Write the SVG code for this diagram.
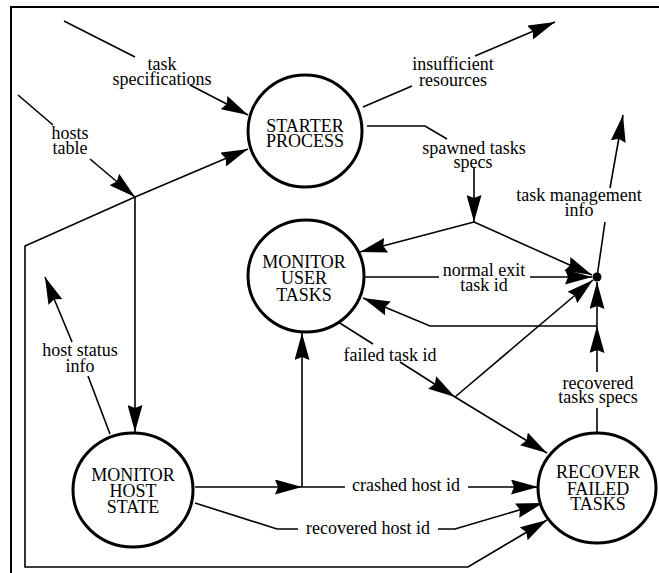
<svg xmlns="http://www.w3.org/2000/svg" width="659" height="573" viewBox="0 0 659 573">
<style>
.node ellipse{fill:#fff;stroke:#000;stroke-width:3}
text{font-family:'Liberation Serif','Times New Roman','DejaVu Serif',serif;font-size:18px;fill:#000;text-anchor:middle}
.c path{fill:none;stroke:#000;stroke-width:1.6}
.frame{fill:none;stroke:#000;stroke-width:2}
</style>
<defs>
<marker id="ah" viewBox="0 0 27 15" refX="27" refY="7.5" markerWidth="27" markerHeight="15" markerUnits="userSpaceOnUse" orient="auto">
<path d="M0,0 L27,7.5 L0,15 L3,7.5 z" fill="#000"/>
</marker>
</defs>
<rect width="659" height="573" fill="#fff"/>
<path class="frame" d="M11,573 L11,7 L659,7"/>

<g id="connectors" class="c">
<path d="M64,21 L135,57"/>
<path d="M190,85 L248,115" marker-end="url(#ah)"/>
<path d="M18,95 L53,125"/>
<path d="M90,159 L135,197" marker-end="url(#ah)"/>
<path d="M135,197 L248,149" marker-end="url(#ah)"/>
<path d="M135,197 L135,432" marker-end="url(#ah)"/>
<path d="M135,197 L25,246 L25,567 L468,567 L547,520" marker-end="url(#ah)"/>
<path d="M110,434 L88,376"/>
<path d="M72,342 L45,277" marker-end="url(#ah)"/>
<path d="M195,487 L302,487" marker-end="url(#ah)"/>
<path d="M302,487 L302,333" marker-end="url(#ah)"/>
<path d="M302,487 L345,487"/>
<path d="M468,487 L538,487" marker-end="url(#ah)"/>
<path d="M195,503 L277,529 L298,529"/>
<path d="M438,529 L455,529 L543,503" marker-end="url(#ah)"/>
<path d="M367,126 L425,126 L447,139"/>
<path d="M474,168 L474,222" marker-end="url(#ah)"/>
<path d="M474,222 L360,252" marker-end="url(#ah)"/>
<path d="M474,222 L592,275" marker-end="url(#ah)"/>
<path d="M363,107 L412,86"/>
<path d="M475,56 L555,22" marker-end="url(#ah)"/>
<path d="M365,277 L439,277"/>
<path d="M530,277 L592,277" marker-end="url(#ah)"/>
<path d="M597,277 L605,222"/>
<path d="M610,188 L623,115" marker-end="url(#ah)"/>
<path d="M335,320 L373,344"/>
<path d="M400,362 L455,397" marker-end="url(#ah)"/>
<path d="M455,397 L547,453" marker-end="url(#ah)"/>
<path d="M455,397 L593,280" marker-end="url(#ah)"/>
<path d="M597,433 L597,408"/>
<path d="M597,372 L597,326" marker-end="url(#ah)"/>
<path d="M597,326 L430,326 L363,298" marker-end="url(#ah)"/>
<path d="M597,326 L597,282" marker-end="url(#ah)"/>
<circle cx="597" cy="277" r="4.5" fill="#000" stroke="none"/>
</g>

<g id="labels">
<text x="162" y="70">task</text>
<text x="162" y="85">specifications</text>
<text x="70" y="139">hosts</text>
<text x="70" y="154">table</text>
<text x="453" y="70">insufficient</text>
<text x="453" y="86">resources</text>
<text x="474" y="154">spawned tasks</text>
<text x="473" y="168">specs</text>
<text x="579" y="201">task management</text>
<text x="579" y="216">info</text>
<text x="484" y="276">normal exit</text>
<text x="484" y="291">task id</text>
<text x="390" y="361">failed task id</text>
<text x="598" y="389">recovered</text>
<text x="598" y="403">tasks specs</text>
<text x="80" y="356">host status</text>
<text x="80" y="372">info</text>
<text x="406" y="491">crashed host id</text>
<text x="368" y="534">recovered host id</text>
</g>

<g id="starter" class="node">
<ellipse cx="305" cy="131" rx="57" ry="56"/>
<text x="305" y="132">STARTER</text>
<text x="305" y="147">PROCESS</text>
</g>
<g id="monitor-user" class="node">
<ellipse cx="306" cy="276" rx="58" ry="56"/>
<text x="304" y="268">MONITOR</text>
<text x="304" y="284">USER</text>
<text x="304" y="301">TASKS</text>
</g>
<g id="monitor-host" class="node">
<ellipse cx="133" cy="490" rx="60" ry="57"/>
<text x="133" y="481">MONITOR</text>
<text x="133" y="497">HOST</text>
<text x="133" y="513">STATE</text>
</g>
<g id="recover" class="node">
<ellipse cx="597" cy="488" rx="59" ry="55"/>
<text x="598" y="478">RECOVER</text>
<text x="598" y="495">FAILED</text>
<text x="598" y="510">TASKS</text>
</g>
</svg>
